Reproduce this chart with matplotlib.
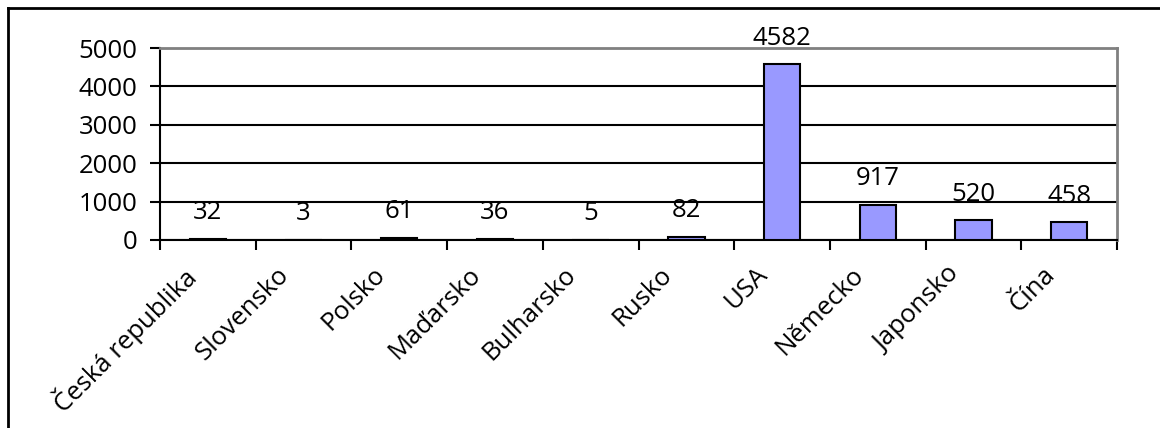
import matplotlib
matplotlib.use("Agg")
import matplotlib.pyplot as plt
import matplotlib.transforms as mtransforms
from matplotlib.lines import Line2D
import numpy as np

categories = ["Česká republika", "Slovensko", "Polsko", "Maďarsko", "Bulharsko",
              "Rusko", "USA", "Německo", "Japonsko", "Čína"]
values = [32, 3, 61, 36, 5, 82, 4582, 917, 520, 458]
y_ticks = [0, 1000, 2000, 3000, 4000, 5000]

plt.rcParams['font.family'] = ['Open Sans', 'DejaVu Sans']
FS = 18.5

W, H = 1160, 428
fig = plt.figure(figsize=(W / 100, H / 100), dpi=100)
L, R, T, B = 160, 1117, 48, 240
ax = fig.add_axes([L / W, 1 - B / H, (R - L) / W, (B - T) / H])

x = np.arange(len(categories))
ax.bar(x, values, width=0.38, color="#9999FF", edgecolor="black", linewidth=1.5, zorder=3)

for xi, v in zip(x, values):
    ax.annotate(str(v), (xi, v), xytext=(0, 14), textcoords="offset points",
                ha="center", va="baseline", fontsize=FS, zorder=4)

ax.set_xlim(-0.5, len(categories) - 0.5)
ax.set_ylim(0, 5000)
ax.set_yticks(y_ticks)
ax.set_yticklabels([str(t) for t in y_ticks], fontsize=FS)
ax.yaxis.grid(True, color="black", linewidth=1.5, zorder=1)
ax.set_axisbelow(True)

# category-boundary ticks
ax.set_xticks(np.arange(-0.5, len(categories), 1.0))
ax.set_xticklabels([])
ax.set_xticks(x, minor=True)
ax.set_xticklabels(categories, minor=True, fontsize=FS, rotation=45,
                   ha="right", va="top", rotation_mode="anchor")
ax.tick_params(axis="x", which="minor", length=0, pad=0)
ax.tick_params(axis="x", which="major", length=7, width=1.5, direction="out")
ax.tick_params(axis="y", length=7, width=1.5, direction="out", pad=9)

offset = mtransforms.ScaledTranslation(-0.27, -0.22, fig.dpi_scale_trans)
for lbl in ax.get_xticklabels(minor=True):
    lbl.set_transform(lbl.get_transform() + offset)

for s in ["left", "bottom"]:
    ax.spines[s].set_color("black")
    ax.spines[s].set_linewidth(1.5)
for s in ["top", "right"]:
    ax.spines[s].set_color("#808080")
    ax.spines[s].set_linewidth(2)

# outer chart border (top and left visible)
fig.add_artist(Line2D([8 / W, 8 / W], [0, 1 - 8 / H], color="black", linewidth=2,
                      transform=fig.transFigure))
fig.add_artist(Line2D([8 / W, 1], [1 - 8 / H, 1 - 8 / H], color="black", linewidth=2,
                      transform=fig.transFigure))

fig.savefig("out.png", dpi=100)
